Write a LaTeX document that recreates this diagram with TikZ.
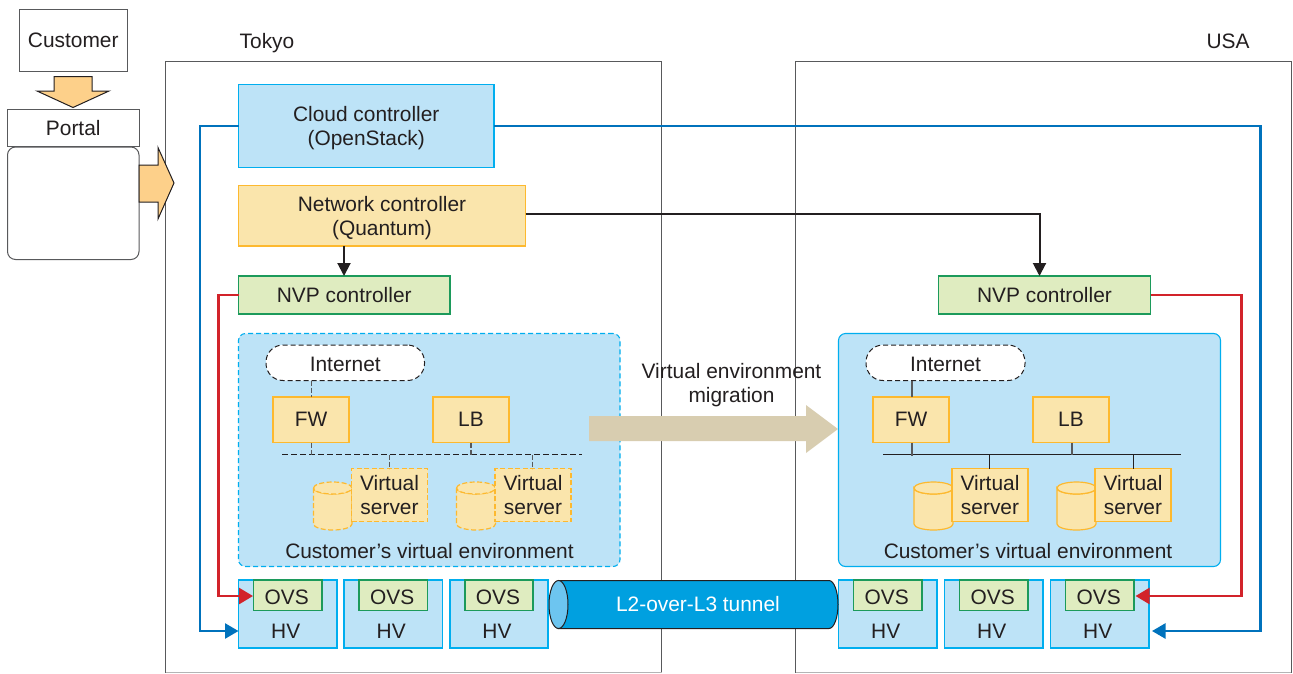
\documentclass[tikz,border=0pt]{standalone}
\usepackage{fontspec}
\setmainfont{Liberation Sans}
\usetikzlibrary{arrows.meta,calc}
\definecolor{ink}{HTML}{231F20}
\definecolor{framegray}{HTML}{58595B}
\definecolor{lblue}{HTML}{BDE3F7}
\definecolor{cyanb}{HTML}{00AEEF}
\definecolor{lyellow}{HTML}{FAE5AC}
\definecolor{orangeb}{HTML}{FDB92F}
\definecolor{lgreen}{HTML}{DFECC0}
\definecolor{greenb}{HTML}{1C9A5B}
\definecolor{bluel}{HTML}{0072BC}
\definecolor{redl}{HTML}{D2232A}
\definecolor{blockorange}{HTML}{FDD08A}
\definecolor{beige}{HTML}{D8CDB0}
\definecolor{tunnel}{HTML}{00A0E0}
\definecolor{tunnelend}{HTML}{6DC5F0}
\tikzset{
  base/.style={rectangle,inner sep=0pt,outer sep=0pt,align=center,text=ink,font=\fontsize{20.9}{24}\selectfont,line width=1pt},
  plainbox/.style={base,draw=framegray,fill=white},
  bluebox/.style={base,draw=cyanb,fill=lblue,line width=1.1pt},
  yelbox/.style={base,draw=orangeb,fill=lyellow,line width=1.2pt},
  yeldash/.style={yelbox,dash pattern=on 5pt off 2.5pt},
  grnbox/.style={base,draw=greenb,fill=lgreen,line width=1.1pt},
  envbox/.style={base,draw=cyanb,fill=lblue,rounded corners=7pt,line width=1.1pt},
  envdash/.style={envbox,dash pattern=on 5pt off 3pt},
  netcloud/.style={base,draw=ink,fill=white,rounded corners=17pt,dash pattern=on 5pt off 3pt},
  label/.style={inner sep=0pt,outer sep=0pt,align=center,text=ink,font=\fontsize{20.9}{24}\selectfont},
  bluearrow/.style={draw=bluel,line width=2.5pt,-{Triangle[length=13.5pt,width=15pt]}},
  redarrow/.style={draw=redl,line width=2.5pt,-{Triangle[length=14pt,width=16pt]}},
  blackarrow/.style={draw=ink,line width=2pt,-{Triangle[length=13pt,width=13pt]}},
  wire/.style={draw=ink,line width=1pt},
  wiredash/.style={wire,dash pattern=on 6pt off 3pt},
  stub/.style={draw=framegray,line width=1.2pt},
  stubdash/.style={stub,dash pattern=on 5pt off 2pt},
  blockarrow/.style={draw=ink,fill=blockorange,line width=1pt,line join=miter},
}
% \bx{style}{name}{x1}{y1}{x2}{y2}{text}
\newcommand{\bx}[7]{%
  \pgfmathsetmacro{\bxw}{#5-#3}\pgfmathsetmacro{\bxh}{#6-#4}%
  \pgfmathsetmacro{\bxcx}{(#5+#3)/2}\pgfmathsetmacro{\bxcy}{(#6+#4)/2}%
  \node[#1,minimum width=\bxw pt,minimum height=\bxh pt,text height=,text depth=] (#2) at (\bxcx,\bxcy) {#7};}
% \cyl{x1}{x2}{ytop}{ybottom}{style}
\newcommand{\cyl}[5]{%
  \pgfmathsetmacro{\cylrx}{(#2-#1)/2}%
  \draw[#5] (#1,#3) -- (#1,#4) arc[start angle=180,end angle=360,x radius=\cylrx pt,y radius=6pt]
     -- (#2,#3) arc[start angle=0,end angle=-180,x radius=\cylrx pt,y radius=6pt] -- cycle;
  \draw[#5] (#1,#3) arc[start angle=180,end angle=0,x radius=\cylrx pt,y radius=6pt]
     arc[start angle=0,end angle=-180,x radius=\cylrx pt,y radius=6pt] -- cycle;}
\newcommand{\hvt}{\rule{0pt}{30pt}\\[-5pt]\hspace*{-4pt}HV}
\newcommand{\ovst}{\rule{0pt}{18.5pt}\hspace*{-2pt}OVS}
\newcommand{\dn}{\rule{0pt}{19.5pt}}
\begin{document}
\begin{tikzpicture}[x=1pt,y=-1pt]
\useasboundingbox[fill=white] (0,0) rectangle (1293,673);
% frames
\draw[framegray,line width=1pt] (165.5,672) rectangle (661.5,61);
\draw[framegray,line width=1pt] (795.5,672) rectangle (1291,61);
\draw[framegray!45,line width=1pt] (165.5,672) -- (661.5,672) (795.5,672) -- (1291,672);
\node[label] (tokyo) at (267,43) {Tokyo};
\node[label] (usa) at (1228,41) {USA};
% customer side
\bx{plainbox}{customer}{19}{9}{127.5}{71}{Customer}
\bx{plainbox}{portal}{7.5}{109}{139}{146.5}{Portal}
\bx{plainbox,rounded corners=8pt}{portalbody}{7.5}{147}{139}{259.5}{}
\draw[blockarrow] (54,76.5) -- (92,76.5) -- (92,91) -- (109,91) -- (73,107.5) -- (37,91) -- (54,91) -- cycle;
\draw[blockarrow] (139,165) -- (158,165) -- (158,147.5) -- (174,183) -- (158,219) -- (158,202) -- (139,202) -- cycle;
% controllers
\bx{bluebox}{cloud}{238.5}{84.5}{494}{167.5}{\dn Cloud controller\\(OpenStack)}
\bx{yelbox}{netctl}{238.5}{185.5}{525.5}{246}{\dn Network controller\\(Quantum)}
\bx{grnbox}{nvpA}{238.5}{276}{450}{314}{NVP controller}
\bx{grnbox}{nvpB}{938.5}{276}{1150.5}{314}{NVP controller}
% left environment
\bx{envdash}{envA}{238.5}{333.5}{620}{566.5}{}
\bx{netcloud}{inetA}{266}{345}{424.5}{380.5}{\rule{0pt}{17pt}Internet}
\bx{yelbox}{fwA}{273}{397}{349}{442.5}{FW}
\bx{yelbox}{lbA}{433}{397}{509}{442.5}{LB}
\coordinate (busAl) at (282,454.5);
\coordinate (busAr) at (582,454.5);
\draw[wiredash] (busAl) -- (busAr);
\draw[stubdash] (inetA.south -| 311.5,0) -- (fwA.north -| 311.5,0);
\draw[stubdash] (fwA.south -| 311.5,0) -- (311.5,454.5);
\draw[stubdash] (lbA.south) -- (471,454.5);
\cyl{313.5}{352}{488}{524}{yeldash}
\bx{yeldash}{vsA}{351.5}{468.5}{427.5}{521.5}{Virtual\\server}
\cyl{456.5}{495.5}{488}{524}{yeldash}
\bx{yeldash}{vsB}{495}{468.5}{571}{521.5}{Virtual\\server}
\draw[stubdash] (389.5,454.5) -- (vsA.north);
\draw[stubdash] (532.5,454.5) -- (532.5,468.5);
\node[label] (envAt) at (429.5,551) {Customer’s virtual environment};
% right environment
\bx{envbox}{envB}{838.5}{333.5}{1220.5}{566.5}{}
\bx{netcloud}{inetB}{866}{345}{1025}{380.5}{\rule{0pt}{17pt}Internet}
\bx{yelbox}{fwB}{873}{397}{949}{442.5}{FW}
\bx{yelbox}{lbB}{1033}{397}{1109}{442.5}{LB}
\coordinate (busBl) at (883,454.5);
\coordinate (busBr) at (1181,454.5);
\draw[wire] (busBl) -- (busBr);
\draw[stub] (inetB.south -| 912,0) -- (fwB.north -| 912,0);
\draw[stub] (fwB.south -| 912,0) -- (912,455.5);
\draw[stub] (lbB.south -| 1072,0) -- (1072,454.5);
\cyl{914}{953}{488}{524}{yelbox}
\bx{yelbox}{vsC}{952}{468.5}{1028}{521.5}{Virtual\\server}
\cyl{1057}{1096}{488}{524}{yelbox}
\bx{yelbox}{vsD}{1095}{468.5}{1171}{521.5}{Virtual\\server}
\draw[wire] (989.5,454.5) -- (989.5,468.5);
\draw[wire] (1133.5,454.5) -- (1133.5,468.5);
\node[label] (envBt) at (1028,551) {Customer’s virtual environment};
% hypervisors
\bx{bluebox}{hvA}{238.5}{580}{337}{648}{\hvt}
\bx{bluebox}{hvB}{344}{580}{442.5}{648}{\hvt}
\bx{bluebox}{hvC}{450}{580}{548}{648}{\hvt}
\bx{bluebox}{hvD}{838.5}{580}{937}{648}{\hvt}
\bx{bluebox}{hvE}{944.5}{580}{1043}{648}{\hvt}
\bx{bluebox}{hvF}{1050.5}{580}{1149}{648}{\hvt}
\bx{grnbox}{ovsA}{253.5}{580}{322}{610.5}{\ovst}
\bx{grnbox}{ovsB}{359}{580}{427.5}{610.5}{\ovst}
\bx{grnbox}{ovsC}{465}{580}{533}{610.5}{\ovst}
\bx{grnbox}{ovsD}{853.5}{580}{922}{610.5}{\ovst}
\bx{grnbox}{ovsE}{959.5}{580}{1028}{610.5}{\ovst}
\bx{grnbox}{ovsF}{1065.5}{580}{1134}{610.5}{\ovst}
% tunnel
\draw[draw=ink,fill=tunnel,line width=1pt] (558,580.5) -- (829,580.5)
  arc[start angle=90,end angle=-90,x radius=9pt,y radius=24pt] -- (558,628.5) -- cycle;
\draw[draw=ink,fill=tunnelend,line width=1pt] (558.5,604.5) ellipse[x radius=9.5pt,y radius=24pt];
\node[label,text=white] (tun) at (698,604) {L2-over-L3 tunnel};
% migration
\draw[fill=beige,draw=none] (589,416) -- (806,416) -- (806,405) -- (838,429) -- (806,453) -- (806,441) -- (589,441) -- cycle;
\node[label] (mig) at (731.5,385) {Virtual environment\\migration};
% connectors
\coordinate (blA1) at (200,126);
\coordinate (blA2) at (200,631);
\coordinate (blAe) at (238.5,631);
\draw[bluearrow] (blA1 -| cloud.west) -- (blA1) -- (blA2) -- (blAe);
\coordinate (blB1) at (1260.5,126);
\coordinate (blB2) at (1260.5,631);
\coordinate (blBe) at (1152,631);
\draw[bluearrow] (blB1 -| cloud.east) -- (blB1) -- (blB2) -- (blBe);
\coordinate (rdA1) at (218.5,295);
\coordinate (rdA2) at (218.5,596);
\coordinate (rdAe) at (253,596);
\draw[redarrow] (nvpA.west) -- (rdA1) -- (rdA2) -- (rdAe);
\coordinate (rdB1) at (1241.5,295);
\coordinate (rdB2) at (1241.5,596);
\coordinate (rdBe) at (1135.5,596);
\draw[redarrow] (nvpB.east) -- (rdB1) -- (rdB2) -- (rdBe);
\coordinate (nc1) at (1039.5,214);
\draw[blackarrow] (nc1 -| netctl.east) -- (nc1) -- (nc1 |- nvpB.north);
\draw[blackarrow] (netctl.south -| 344,0) -- (nvpA.north -| 344,0);
\end{tikzpicture}
\end{document}
